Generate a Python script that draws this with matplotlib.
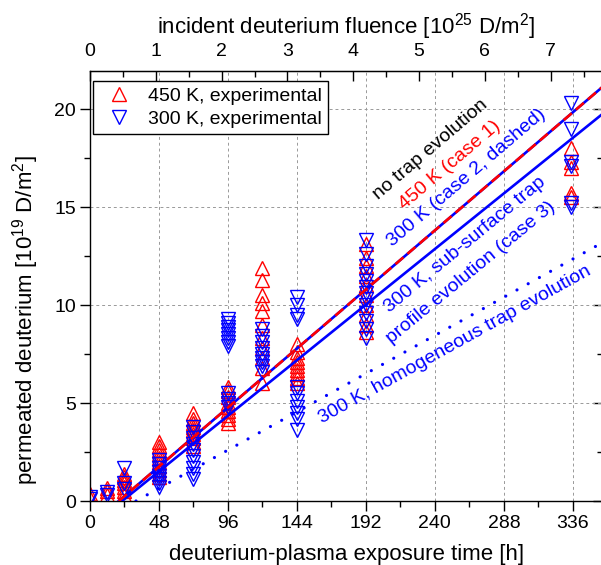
# Deuterium permeation vs plasma exposure time (450 K / 300 K)
import matplotlib
matplotlib.use("Agg")
import matplotlib.pyplot as plt
from matplotlib.ticker import MultipleLocator, FixedLocator

plt.rcParams['font.family'] = ['Liberation Sans', 'DejaVu Sans']
plt.rcParams['mathtext.fontset'] = 'custom'
plt.rcParams['mathtext.rm'] = 'Liberation Sans'
plt.rcParams['mathtext.it'] = 'Liberation Sans:italic'

# exposure times of the measurement groups [h]
times = [0, 12, 24, 48, 72, 96, 120, 144, 192, 335]

# 450 K, experimental (permeated D, 1e19 D/m^2), one list per time
d450 = [
    [0.15, 0.35],
    [0.3, 0.5, 0.65],
    [0.3, 0.5, 0.7, 0.9, 1.07, 1.2, 1.4],
    [1.2, 1.4, 1.6, 1.8, 2.0, 2.2, 2.4, 2.6, 2.8, 3.0],
    [2.8, 3.0, 3.2, 3.4, 3.6, 3.8, 4.0, 4.2, 4.5],
    [4.0, 4.2, 4.4, 4.6, 4.8, 5.0, 5.3, 5.6, 5.8],
    [6.0, 6.8, 7.3, 7.8, 8.3, 9.0, 9.7, 10.1, 10.5, 11.3, 11.9],
    [6.0, 6.3, 6.5, 6.7, 6.9, 7.1, 7.3, 7.6, 8.0],
    [8.6, 9.0, 9.5, 10.0, 10.5, 11.0, 11.5, 12.0, 12.4, 13.1],
    [15.5, 15.7, 17.0, 17.3, 18.0],
]

# 300 K, experimental
d300 = [
    [0.1, 0.2],
    [0.3, 0.45],
    [0.6, 0.9, 1.7],
    [0.7, 0.9, 1.1, 1.3, 1.5, 1.7, 1.9, 2.1],
    [1.1, 1.4, 1.7, 2.0, 2.3, 2.6, 2.9, 3.2, 3.5, 3.8],
    [4.8, 5.0, 5.2, 5.5, 7.9, 8.1, 8.3, 8.5, 8.7, 8.9, 9.1, 9.3],
    [6.6, 6.9, 7.1, 7.3, 7.5, 7.8, 8.1, 8.4, 8.8],
    [3.6, 4.2, 4.5, 4.8, 5.1, 5.5, 5.8, 9.3, 9.5, 10.0, 10.4],
    [8.3, 8.8, 9.2, 9.6, 10.0, 10.3, 10.6, 10.9, 11.2, 11.6, 12.0, 12.6, 13.3],
    [15.0, 15.2, 17.1, 17.3, 19.0, 20.3],
]

# model curves
t_case12 = [20, 357]
d_case12 = [0.0, 21.15]
t_case3 = [22.4, 357]
d_case3 = [0.0, 19.77]
t_homog = [32, 357]
d_homog = [0.0, 13.2]

h_per_fluence = 45.8  # h of exposure per 1e25 D/m^2
fluence_ticks = [0, 1, 2, 3, 4, 5, 6, 7]

fig = plt.figure(figsize=(6.01, 5.65), dpi=100)
ax = fig.add_axes([90 / 601, 64 / 565, 513 / 601, 430 / 565])

ax.grid(True, color='#999999', linestyle=(0, (3, 3)), linewidth=0.7)
ax.set_axisbelow(True)

for t, vals in zip(times, d450):
    ax.plot([t] * len(vals), vals, linestyle='none', marker='^', ms=10.5,
            mfc='none', mec='red', mew=1.0)
for t, vals in zip(times, d300):
    ax.plot([t] * len(vals), vals, linestyle='none', marker='v', ms=10.5,
            mfc='none', mec='blue', mew=1.0)

ax.plot(t_case12, d_case12, color='blue', lw=1.9, zorder=4)
ax.plot(t_case12, d_case12, color='red', lw=1.9, linestyle=(0, (4, 2)), zorder=5)
ax.plot(t_case3, d_case3, color='blue', lw=1.9, zorder=4)
ax.plot(t_homog, d_homog, color='blue', lw=2.3, linestyle=(0, (0.01, 4)),
        dash_capstyle='round', zorder=4)

# legend proxies
ax.plot([], [], linestyle='none', marker='^', ms=10.5, mfc='none', mec='red',
        label='450 K, experimental')
ax.plot([], [], linestyle='none', marker='v', ms=10.5, mfc='none', mec='blue',
        label='300 K, experimental')
handles, labels = ax.get_legend_handles_labels()
leg = ax.legend(handles[-2:], labels[-2:], loc='upper left',
                bbox_to_anchor=(0.006, 0.977), borderaxespad=0, fontsize=14,
                fancybox=False, edgecolor='black', framealpha=1,
                handlelength=2.0, handletextpad=0.5, borderpad=0.32,
                labelspacing=0.3, numpoints=1)
leg.get_frame().set_linewidth(1.0)

# annotations
kw = dict(fontsize=14, ha='center', va='center', rotation_mode='anchor')
ax.text(237.2, 17.91, 'no trap evolution', color='black', rotation=40.5, **kw)
ax.text(250.4, 17.14, '450 K (case 1)', color='red', rotation=40.5, **kw)
ax.text(262.3, 16.48, '300 K (case 2, dashed)', color='blue', rotation=40.5, **kw)
ax.text(260.9, 13.06, '300 K, sub-surface trap', color='blue', rotation=39.5, **kw)
ax.text(265.0, 11.63, 'profile evolution (case 3)', color='blue', rotation=39.5, **kw)
ax.text(253.9, 7.96, '300 K, homogeneous trap evolution', color='blue',
        rotation=29, **kw)

ax.set_xlim(0, 357)
ax.set_ylim(0, 21.94)
ax.xaxis.set_major_locator(MultipleLocator(48))
ax.xaxis.set_minor_locator(MultipleLocator(24))
ax.yaxis.set_major_locator(MultipleLocator(5))
ax.yaxis.set_minor_locator(MultipleLocator(2.5))
ax.tick_params(which='major', direction='out', length=7, width=1, labelsize=14)
ax.tick_params(which='minor', direction='out', length=4, width=1)
ax.tick_params(axis='x', pad=3)
ax.tick_params(axis='y', pad=3)
for s in ax.spines.values():
    s.set_linewidth(1.0)

# right side ticks, pointing inwards
axr = ax.secondary_yaxis('right')
axr.yaxis.set_major_locator(MultipleLocator(5))
axr.yaxis.set_minor_locator(MultipleLocator(2.5))
axr.tick_params(which='major', direction='in', length=7, width=1, labelright=False)
axr.tick_params(which='minor', direction='in', length=4, width=1)

# top: incident fluence
top = ax.secondary_xaxis('top', functions=(lambda t: t / h_per_fluence,
                                           lambda f: f * h_per_fluence))
top.xaxis.set_major_locator(FixedLocator(fluence_ticks))
top.xaxis.set_minor_locator(MultipleLocator(0.5))
top.tick_params(which='major', direction='in', length=7, width=1,
                labelsize=14, pad=8)
top.tick_params(which='minor', direction='in', length=4, width=1)
top.set_xlabel('incident deuterium fluence [10$^{25}$ D/m$^2$]', fontsize=16,
               labelpad=7)

ax.set_xlabel('deuterium-plasma exposure time [h]', fontsize=16)
ax.set_ylabel('permeated deuterium [10$^{19}$ D/m$^2$]', fontsize=16)
ax.xaxis.set_label_coords(0.5, -0.101)
ax.yaxis.set_label_coords(-0.095, 0.42)

fig.savefig('out.png', dpi=100)
